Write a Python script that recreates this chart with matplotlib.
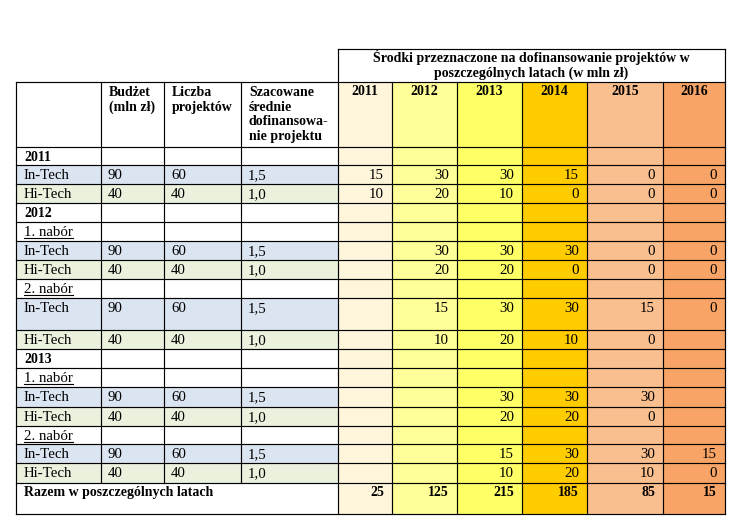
import matplotlib
matplotlib.use("Agg")
import matplotlib.pyplot as plt
from matplotlib.patches import Rectangle

# ---------------- data ----------------
title_lines = ["Środki przeznaczone na dofinansowanie projektów w",
               "poszczególnych latach (w mln zł)"]
left_headers = [[""], ["Budżet", "(mln zł)"], ["Liczba", "projektów"],
                ["Szacowane", "średnie", "dofinansowa-", "nie projektu"]]
years = ["2011", "2012", "2013", "2014", "2015", "2016"]

row_labels = ["2011", "In-Tech", "Hi-Tech",
              "2012", "1. nabór", "In-Tech", "Hi-Tech", "2. nabór", "In-Tech", "Hi-Tech",
              "2013", "1. nabór", "In-Tech", "Hi-Tech", "2. nabór", "In-Tech", "Hi-Tech"]
row_kind = ["year", "in", "hi",
            "year", "nabor", "in", "hi", "nabor", "in", "hi",
            "year", "nabor", "in", "hi", "nabor", "in", "hi"]
budget = ["", "90", "40", "", "", "90", "40", "", "90", "40", "", "", "90", "40", "", "90", "40"]
projects = ["", "60", "40", "", "", "60", "40", "", "60", "40", "", "", "60", "40", "", "60", "40"]
avg_fund = ["", "1,5", "1,0", "", "", "1,5", "1,0", "", "1,5", "1,0", "", "", "1,5", "1,0", "", "1,5", "1,0"]

N = None
year_values = [
    [N, N, N, N, N, N],
    [15, 30, 30, 15, 0, 0],
    [10, 20, 10, 0, 0, 0],
    [N, N, N, N, N, N],
    [N, N, N, N, N, N],
    [N, 30, 30, 30, 0, 0],
    [N, 20, 20, 0, 0, 0],
    [N, N, N, N, N, N],
    [N, 15, 30, 30, 15, 0],
    [N, 10, 20, 10, 0, N],
    [N, N, N, N, N, N],
    [N, N, N, N, N, N],
    [N, N, 30, 30, 30, N],
    [N, N, 20, 20, 0, N],
    [N, N, N, N, N, N],
    [N, N, 15, 30, 30, 15],
    [N, N, 10, 20, 10, 0],
]
total_label = "Razem w poszczególnych latach"
totals = [25, 125, 215, 185, 85, 15]

# ---------------- layout / style ----------------
col_edges = [16, 101, 164, 241, 338, 392, 457, 522, 587, 663, 725]
row_edges = [82, 147, 165, 184, 203, 222, 241, 260, 279, 298, 330, 349,
             368, 387, 407, 426, 444, 463, 483, 514]
super_top = 49
year_colors = ["#FEF5DA", "#FFFF99", "#FFFF66", "#FFCC00", "#FABF8F", "#F7A466"]
kind_colors = {"year": "white", "nabor": "white", "in": "#DBE5F1", "hi": "#EAF1DD"}
FONT = "Liberation Serif"
FS = 10.7
FSB = 10.0
LW = 0.85
PADL, PADR, BASE, LSP = 8, 8, 14, 14.7

fig = plt.figure(figsize=(7.37, 5.27), dpi=100)
ax = fig.add_axes([0, 0, 1, 1])
ax.set_xlim(0, 737)
ax.set_ylim(527, 0)
ax.axis("off")

def rect(x0, x1, y0, y1, color):
    ax.add_patch(Rectangle((x0, y0), x1 - x0, y1 - y0, facecolor=color,
                           edgecolor="none", zorder=1))

def txt(x, y, s, ha="left", bold=False):
    return ax.text(x, y, s, ha=ha, va="baseline", fontsize=FSB if bold else FS,
                   family=FONT, fontweight="bold" if bold else "normal",
                   color="black", zorder=3)

nrows = len(row_labels)
table_bottom = row_edges[-1]

# fills: year columns full height (header to totals)
for j, c in enumerate(year_colors):
    rect(col_edges[4 + j], col_edges[5 + j], row_edges[0], table_bottom, c)
# left-side fills by row kind
for i, k in enumerate(row_kind):
    rect(col_edges[0], col_edges[4], row_edges[i + 1], row_edges[i + 2], kind_colors[k])

# ---- grid lines ----
def hline(y, x0, x1):
    ax.plot([x0, x1], [y, y], color="black", lw=LW, zorder=2, solid_capstyle="projecting")

def vline(x, y0, y1):
    ax.plot([x, x], [y0, y1], color="black", lw=LW, zorder=2, solid_capstyle="projecting")

hline(super_top, col_edges[4], col_edges[-1])
vline(col_edges[4], super_top, table_bottom)
vline(col_edges[-1], super_top, table_bottom)
for y in row_edges:
    hline(y, col_edges[0], col_edges[-1])
vline(col_edges[0], row_edges[0], table_bottom)
for x in col_edges[1:4]:
    vline(x, row_edges[0], row_edges[-2])
for x in col_edges[5:-1]:
    vline(x, row_edges[0], table_bottom)

# ---- super header ----
cx = (col_edges[4] + col_edges[-1]) / 2
for li, line in enumerate(title_lines):
    txt(cx, super_top + 13 + li * 14.5, line, ha="center", bold=True)

# ---- header row ----
for j, lines in enumerate(left_headers):
    for li, line in enumerate(lines):
        txt(col_edges[j] + PADL, row_edges[0] + BASE + li * LSP, line, bold=True)
for j, y in enumerate(years):
    txt((col_edges[4 + j] + col_edges[5 + j]) / 2, row_edges[0] + 13, y, ha="center", bold=True)

# ---- body ----
fig.canvas.draw()
renderer = fig.canvas.get_renderer()
for i in range(nrows):
    top = row_edges[i + 1]
    yb = top + BASE
    k = row_kind[i]
    t = txt(col_edges[0] + PADL, yb, row_labels[i], bold=(k == "year"))
    if k == "nabor":
        bb = t.get_window_extent(renderer=renderer)
        inv = ax.transData.inverted()
        (xa, _), (xb, _) = inv.transform([[bb.x0, bb.y0], [bb.x1, bb.y0]])
        ax.plot([xa, xb], [yb + 2, yb + 2], color="black", lw=0.8, zorder=3)
    for j, col in enumerate([budget, projects, avg_fund]):
        if col[i]:
            txt(col_edges[1 + j] + PADL - 1, yb, col[i])
    for j, v in enumerate(year_values[i]):
        if v is not None:
            txt(col_edges[5 + j] - PADR, yb, str(v), ha="right")

# ---- totals ----
yt = row_edges[-2] + 13
txt(col_edges[0] + PADL, yt, total_label, bold=True)
for j, v in enumerate(totals):
    txt(col_edges[5 + j] - PADR, yt, str(v), ha="right", bold=True)

fig.savefig("out.png", dpi=100)
